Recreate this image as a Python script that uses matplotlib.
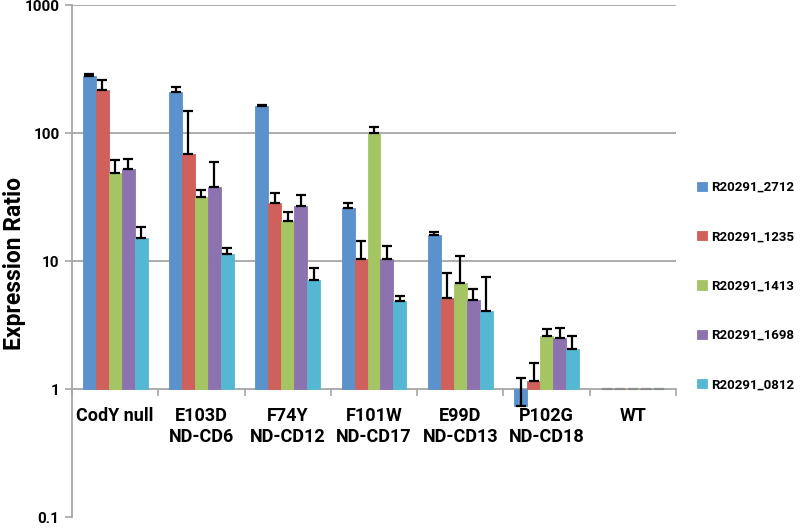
import matplotlib
matplotlib.use("Agg")
import matplotlib.pyplot as plt
import numpy as np

categories = ["CodY null", "E103D\nND-CD6", "F74Y\nND-CD12", "F101W\nND-CD17",
              "E99D\nND-CD13", "P102G\nND-CD18", "WT"]
series = ["R20291_2712", "R20291_1235", "R20291_1413", "R20291_1698", "R20291_0812"]
colors = ["#5B92CB", "#CF605B", "#A5C464", "#8C73AF", "#55B8D2"]

# values per series (one entry per category)
s2712 = [279, 209, 162, 26.1, 16.0, 0.74, 1]
s1235 = [217, 68, 28.6, 10.3, 5.14, 1.16, 1]
s1413 = [49, 31.8, 20.6, 99.4, 6.7, 2.6, 1]
s1698 = [52, 38, 26.9, 10.3, 5.0, 2.5, 1]
s0812 = [15.0, 11.3, 7.1, 4.87, 4.1, 2.04, 1]

# upper error bar lengths
e2712 = [11, 20, 4, 2.3, 0.9, 0.47, 0]
e1235 = [41, 81, 5.4, 4.0, 2.9, 0.43, 0]
e1413 = [12, 4.2, 3.4, 12.6, 4.3, 0.32, 0]
e1698 = [11, 21, 6.1, 2.9, 1.0, 0.5, 0]
e0812 = [3.3, 1.4, 1.7, 0.43, 3.4, 0.54, 0]

yticks = [0.1, 1, 10, 100, 1000]
ytick_labels = ["0.1", "1", "10", "100", "1000"]

values = [s2712, s1235, s1413, s1698, s0812]
errors = [e2712, e1235, e1413, e1698, e0812]

plt.rcParams["font.family"] = ["Roboto", "DejaVu Sans"]
plt.rcParams["font.weight"] = "bold"

fig = plt.figure(figsize=(8.0, 5.28), dpi=100)
ax = fig.add_axes([0.09, 0.0208, 0.755, 0.9697])

x = np.arange(len(categories))
bw = 0.15
for i, (name, vals, errs, col) in enumerate(zip(series, values, errors, colors)):
    xs = x + (i - 2) * bw
    vals = np.array(vals, dtype=float)
    errs = np.array(errs, dtype=float)
    ax.bar(xs, vals - 1, bottom=1, width=bw, color=col, label=name,
           edgecolor=col, linewidth=0.6, zorder=2)
    z = vals == 1
    if z.any():
        ax.hlines(vals[z], xs[z] - bw * 0.4, xs[z] + bw * 0.4, color="#8c8c8c",
                  lw=1.6, zorder=4)
    m = errs > 0
    ax.errorbar(xs[m], vals[m], yerr=[np.zeros(m.sum()), errs[m]], fmt="none",
                ecolor="black", elinewidth=1.6, capsize=3.5, capthick=1.6, zorder=3)

ax.set_yscale("log")
ax.set_ylim(0.1, 1000)
ax.set_xlim(-0.5, len(categories) - 0.5)

for t in yticks:
    if t > 1:
        ax.axhline(t, color="#a6a6a6", lw=1.3, zorder=1)

ax.set_yticks(yticks)
ax.set_yticklabels(ytick_labels)
ax.yaxis.set_minor_locator(matplotlib.ticker.NullLocator())
ax.tick_params(axis="y", direction="out", length=5, width=1.2, color="#a6a6a6", pad=4,
               labelsize=11)

ax.set_xticks(x)
ax.set_xticklabels(categories, linespacing=1.3)
ax.set_xticks(np.arange(-0.5, len(categories)), minor=True)
ax.tick_params(axis="x", which="major", length=0, pad=13, labelsize=13)
ax.tick_params(axis="x", which="minor", direction="out", length=5, width=1.2, color="#a6a6a6")

for s in ["top", "right"]:
    ax.spines[s].set_visible(False)
ax.spines["bottom"].set_position(("data", 1))
ax.spines["bottom"].set_color("#a6a6a6")
ax.spines["bottom"].set_linewidth(1.3)
ax.spines["left"].set_color("#a6a6a6")
ax.spines["left"].set_linewidth(1.3)
ax.spines["bottom"].set_zorder(1)

fig.text(0.018, 0.5, "Expression Ratio", rotation=90, va="center", ha="center",
         fontweight="bold", fontsize=16.5)

leg = fig.legend(loc="center left", bbox_to_anchor=(0.857, 0.458), frameon=False,
                 prop={"family": "Roboto", "weight": "bold", "size": 9.5},
                 handlelength=0.7, handleheight=0.7, handletextpad=0.35, labelspacing=2.75)

for t in ax.get_xticklabels() + ax.get_yticklabels() + leg.get_texts():
    t.set_fontweight("bold")

fig.savefig("out.png", dpi=100)
